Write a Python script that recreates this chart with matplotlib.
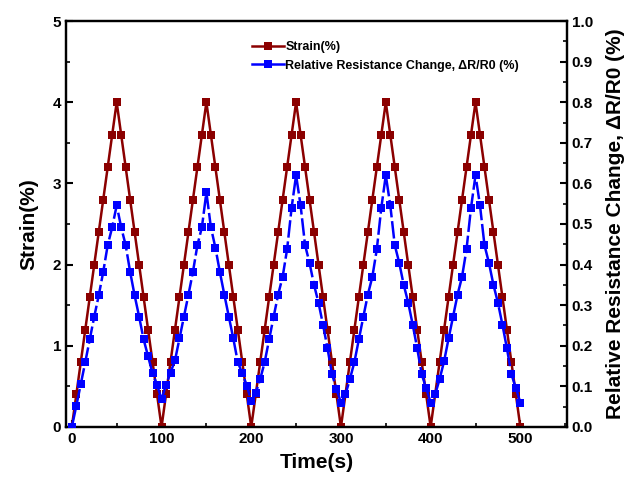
import matplotlib
matplotlib.use("Agg")
import matplotlib.pyplot as plt
from matplotlib.ticker import MultipleLocator

plt.rcParams['font.family'] = ['Liberation Sans', 'DejaVu Sans']
plt.rcParams['font.weight'] = 'bold'

# ---- data ----
time_s = list(range(0, 505, 5))
strain = [0.0, 0.4, 0.8, 1.2, 1.6, 2.0, 2.4, 2.8, 3.2, 3.6, 4.0,
          3.6, 3.2, 2.8, 2.4, 2.0, 1.6, 1.2, 0.8, 0.4, 0.0,
          0.4, 0.8, 1.2, 1.6, 2.0, 2.4, 2.8, 3.2, 3.6, 4.0,
          3.6, 3.2, 2.8, 2.4, 2.0, 1.6, 1.2, 0.8, 0.4, 0.0,
          0.4, 0.8, 1.2, 1.6, 2.0, 2.4, 2.8, 3.2, 3.6, 4.0,
          3.6, 3.2, 2.8, 2.4, 2.0, 1.6, 1.2, 0.8, 0.4, 0.0,
          0.4, 0.8, 1.2, 1.6, 2.0, 2.4, 2.8, 3.2, 3.6, 4.0,
          3.6, 3.2, 2.8, 2.4, 2.0, 1.6, 1.2, 0.8, 0.4, 0.0,
          0.4, 0.8, 1.2, 1.6, 2.0, 2.4, 2.8, 3.2, 3.6, 4.0,
          3.6, 3.2, 2.8, 2.4, 2.0, 1.6, 1.2, 0.8, 0.4, 0.0]
resistance = [0.000, 0.052, 0.106, 0.160, 0.216, 0.272, 0.324, 0.382, 0.448, 0.492, 0.546,
              0.492, 0.448, 0.382, 0.324, 0.272, 0.216, 0.174, 0.132, 0.104, 0.068,
              0.104, 0.134, 0.164, 0.218, 0.272, 0.326, 0.382, 0.448, 0.492, 0.578,
              0.492, 0.442, 0.382, 0.326, 0.272, 0.218, 0.160, 0.132, 0.102, 0.064,
              0.084, 0.118, 0.160, 0.216, 0.272, 0.326, 0.370, 0.438, 0.540, 0.620,
              0.546, 0.448, 0.404, 0.350, 0.306, 0.252, 0.194, 0.130, 0.094, 0.060,
              0.080, 0.118, 0.160, 0.216, 0.272, 0.326, 0.370, 0.438, 0.540, 0.620,
              0.546, 0.448, 0.404, 0.350, 0.306, 0.252, 0.194, 0.130, 0.096, 0.060,
              0.080, 0.118, 0.162, 0.218, 0.272, 0.326, 0.370, 0.438, 0.540, 0.620,
              0.546, 0.448, 0.404, 0.350, 0.306, 0.252, 0.194, 0.130, 0.096, 0.060]

strain_label = "Strain(%)"
res_label = "Relative Resistance Change, \u0394R/R0 (%)"

red = '#8B0000'
blue = '#0000FF'

fig = plt.figure(figsize=(6.25, 4.83), dpi=100)
ax = fig.add_axes([0.1056, 0.116, 0.8016, 0.8405])
ax2 = ax.twinx()

l1, = ax.plot(time_s, strain, color=red, lw=1.8, marker='s', ms=6,
              markeredgewidth=0, label=strain_label, zorder=3)
l2, = ax2.plot(time_s, resistance, color=blue, lw=1.8, marker='s', ms=6,
               markeredgewidth=0, dashes=(7, 1.5), label=res_label, zorder=3)

ax.set_xlim(-6.5, 552)
ax.set_ylim(0, 5)
ax2.set_ylim(0, 1.0)

ax.xaxis.set_major_locator(MultipleLocator(100))
ax.xaxis.set_minor_locator(MultipleLocator(50))
ax.yaxis.set_major_locator(MultipleLocator(1))
ax.yaxis.set_minor_locator(MultipleLocator(0.5))
ax2.yaxis.set_major_locator(MultipleLocator(0.1))
ax2.yaxis.set_minor_locator(MultipleLocator(0.05))
ax2.yaxis.set_major_formatter(plt.FormatStrFormatter('%.1f'))

for a in (ax, ax2):
    for s in a.spines.values():
        s.set_linewidth(1.6)
    a.tick_params(which='major', direction='in', length=5, width=1.5, labelsize=11)
    a.tick_params(which='minor', direction='in', length=3, width=1.2)

ax.tick_params(top=False, which='both')
ax.tick_params(right=False, which='both')

ax.set_xlabel("Time(s)", fontsize=15, fontweight='bold', labelpad=5)
ax.set_ylabel("Strain(%)", fontsize=15, fontweight='bold', labelpad=10)
ax2.set_ylabel(res_label, fontsize=15, fontweight='bold', labelpad=9)

leg = ax2.legend(handles=[l1, l2], loc='upper left', bbox_to_anchor=(0.372, 0.95),
                 frameon=False, handlelength=2.5, handletextpad=0.15,
                 labelspacing=0.5, borderpad=0, borderaxespad=0,
                 prop={'weight': 'bold', 'size': 9})
for line in leg.get_lines():
    line.set_linestyle('-')

fig.savefig("out.png", dpi=100)
